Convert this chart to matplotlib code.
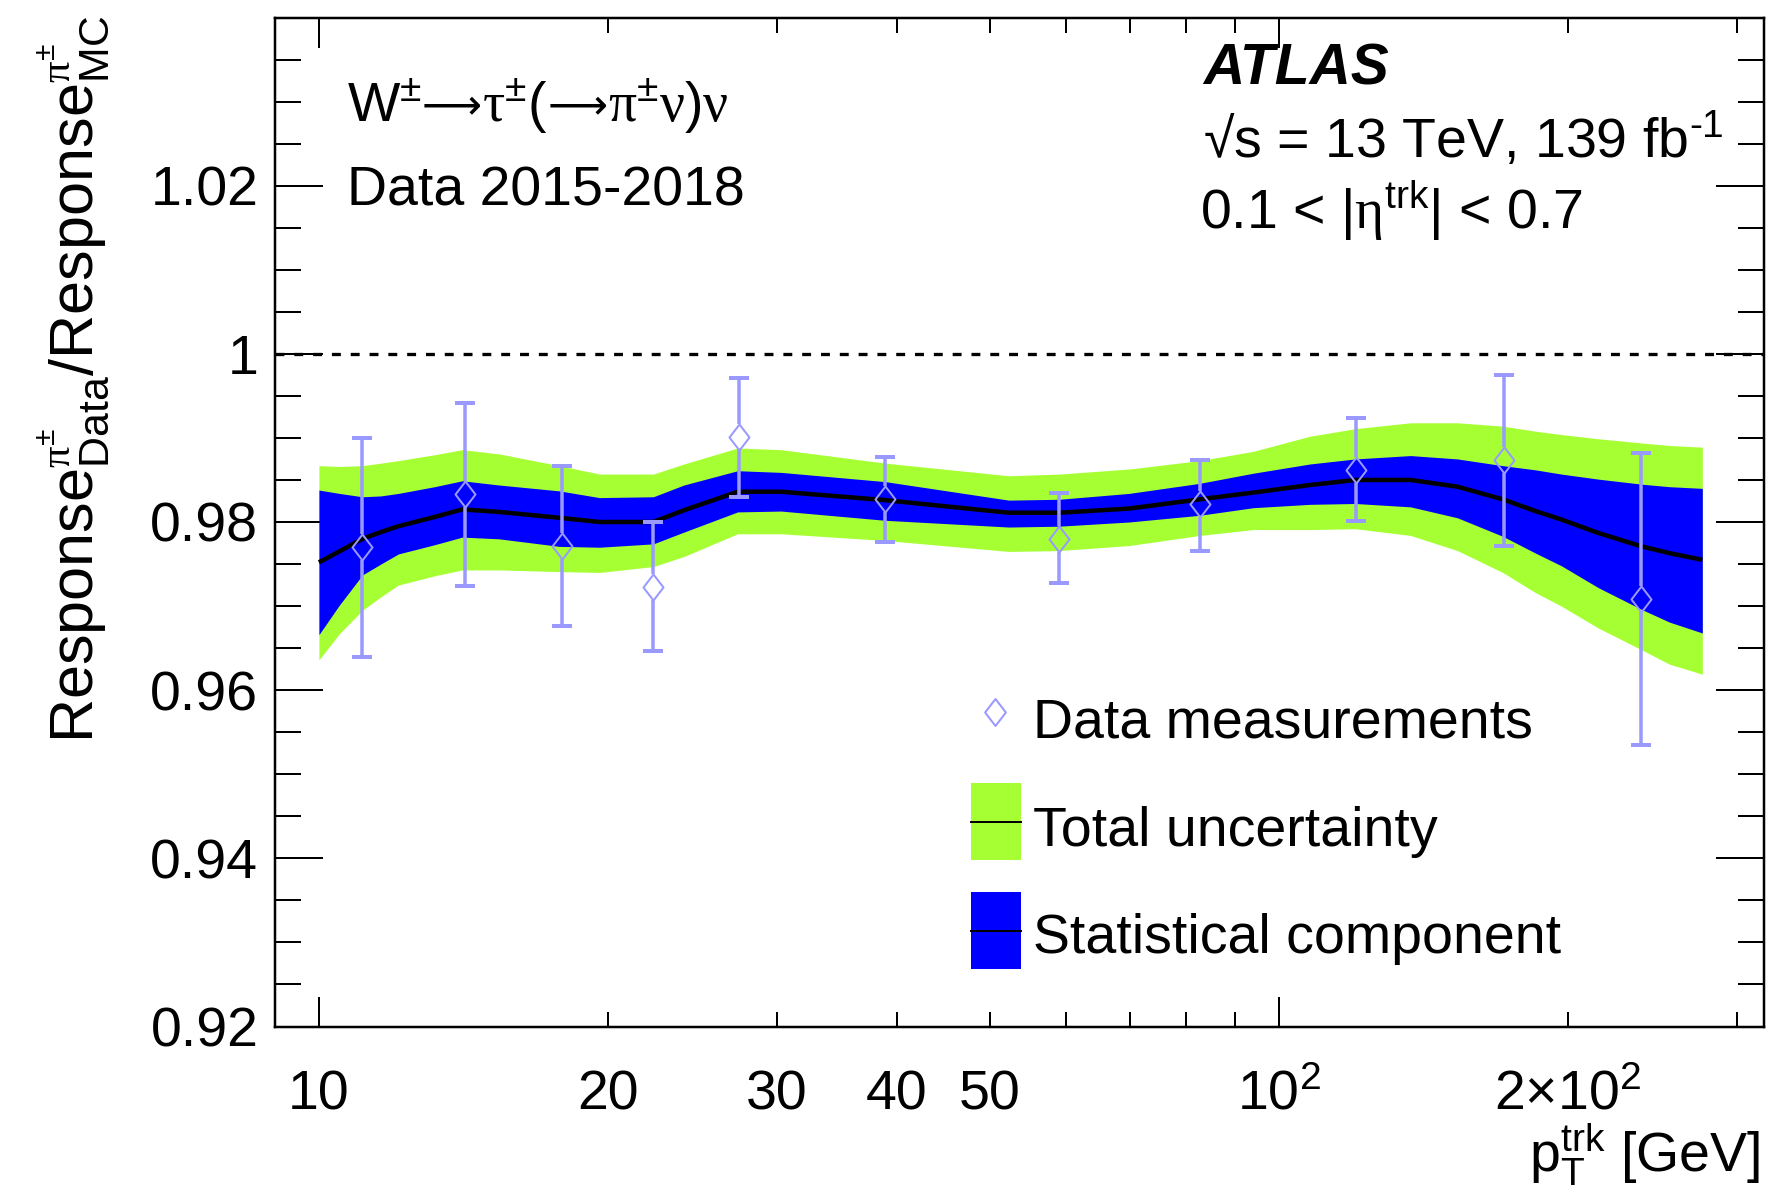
import numpy as np
import matplotlib
matplotlib.use("Agg")
import matplotlib.pyplot as plt
from matplotlib.path import Path
from matplotlib.patches import Rectangle
from matplotlib.lines import Line2D

# ---------------- data ----------------
# smooth fit curve
curve_pt = [10.0, 10.5, 11.1, 11.6, 12.1, 13.2, 14.1, 15.4, 17.8, 19.6, 22.3, 24.0, 27.3,
            30.3, 38.9, 52.3, 59.0, 69.8, 82.7, 94.0, 107.7, 120.1, 137.1, 153.4, 171.0,
            185.0, 196.8, 215.0, 238.6, 255.0, 276.0]
curve_central = [0.9752, 0.9765, 0.9780, 0.9788, 0.9795, 0.9806, 0.9815, 0.9812, 0.9805,
                 0.9800, 0.9800, 0.9814, 0.9836, 0.9836, 0.9826, 0.9811, 0.9811, 0.9816,
                 0.9827, 0.9835, 0.9844, 0.9850, 0.9850, 0.9842, 0.9827, 0.9813, 0.9803,
                 0.9787, 0.9771, 0.9763, 0.9755]
stat_hi = [0.9838, 0.9834, 0.9830, 0.9831, 0.9834, 0.9842, 0.9849, 0.9844, 0.9837, 0.9829,
           0.9830, 0.9844, 0.9861, 0.9859, 0.9848, 0.9826, 0.9827, 0.9834, 0.9846, 0.9858,
           0.9869, 0.9875, 0.9879, 0.9875, 0.9867, 0.9862, 0.9857, 0.9851, 0.9845, 0.9842,
           0.9840]
stat_lo = [0.9666, 0.9701, 0.9737, 0.9750, 0.9762, 0.9773, 0.9782, 0.9780, 0.9771, 0.9770,
           0.9774, 0.9788, 0.9812, 0.9813, 0.9802, 0.9794, 0.9795, 0.9800, 0.9808, 0.9817,
           0.9821, 0.9822, 0.9818, 0.9805, 0.9783, 0.9763, 0.9748, 0.9722, 0.9696, 0.9681,
           0.9668]
tot_hi = [0.9867, 0.9866, 0.9867, 0.9870, 0.9873, 0.9880, 0.9886, 0.9881, 0.9867, 0.9857,
          0.9857, 0.9869, 0.9888, 0.9886, 0.9870, 0.9855, 0.9857, 0.9863, 0.9873, 0.9884,
          0.9902, 0.9911, 0.9918, 0.9918, 0.9914, 0.9908, 0.9904, 0.9899, 0.9894, 0.9891,
          0.9889]
tot_lo = [0.9636, 0.9667, 0.9695, 0.9711, 0.9725, 0.9736, 0.9743, 0.9743, 0.9741, 0.9740,
          0.9747, 0.9759, 0.9786, 0.9786, 0.9778, 0.9765, 0.9766, 0.9772, 0.9784, 0.9791,
          0.9791, 0.9792, 0.9784, 0.9766, 0.9740, 0.9716, 0.9700, 0.9674, 0.9648, 0.9631,
          0.9619]

# data measurements
meas_pt = [11.1, 14.2, 17.9, 22.3, 27.4, 38.9, 59.0, 82.7, 120.3, 171.5, 238.5]
meas_val = [0.9770, 0.9833, 0.9772, 0.9723, 0.9901, 0.9827, 0.9780, 0.9821, 0.9862, 0.9874, 0.9709]
meas_top = [0.9900, 0.9941, 0.9867, 0.9800, 0.9971, 0.9877, 0.9834, 0.9874, 0.9924, 0.9975, 0.9882]
meas_bot = [0.9640, 0.9724, 0.9676, 0.9646, 0.9830, 0.9776, 0.9727, 0.9766, 0.9801, 0.9771, 0.9535]

x_major = [10, 100]
x_major_labels = ["10", "$10^{2}$"]
x_minor = [20, 30, 40, 50, 60, 70, 80, 90, 200, 300]
x_minor_labels = ["20", "30", "40", "50", "", "", "", "", r"2$\times$10$^{2}$", ""]
y_major = [0.92, 0.94, 0.96, 0.98, 1.00, 1.02]
y_major_labels = ["0.92", "0.94", "0.96", "0.98", "1", "1.02"]

# ---------------- style ----------------
plt.rcParams["font.family"] = ["Liberation Sans", "DejaVu Sans"]
plt.rcParams["mathtext.fontset"] = "custom"
plt.rcParams["mathtext.rm"] = "Liberation Sans"
plt.rcParams["mathtext.it"] = "Liberation Sans:italic"
plt.rcParams["mathtext.bf"] = "Liberation Sans:bold"
plt.rcParams["mathtext.sf"] = "Liberation Serif"

W, H = 1767, 1200
PX = 72.0 / 100.0  # points per pixel
FS = 40

GREEN = "#A6FF32"
BLUE = "#0000FF"
MK = "#9999FF"

fig = plt.figure(figsize=(W / 100, H / 100), dpi=100)
ax_l, ax_r, ax_t, ax_b = 275, 1764, 17.5, 1026.5
ax = fig.add_axes([ax_l / W, 1 - ax_b / H, (ax_r - ax_l) / W, (ax_b - ax_t) / H])
ax.set_xscale("log")
ax.set_xlim(9, 320)
ax.set_ylim(0.92, 1.04)

ax.fill_between(curve_pt, tot_lo, tot_hi, color=GREEN, lw=0, zorder=1)
ax.fill_between(curve_pt, stat_lo, stat_hi, color=BLUE, lw=0, zorder=2)
ax.plot(curve_pt, curve_central, color="k", lw=4.5 * PX, zorder=3, solid_capstyle="butt",
        solid_joinstyle="round")
ax.axhline(1.0, color="k", lw=3.3 * PX, dashes=(2.7, 3.0), zorder=3)

# measurements: error bars stop at marker edges
gap = 13 * (0.12 / (ax_b - ax_t))
mv = np.array(meas_val)
ax.vlines(meas_pt, mv + gap, meas_top, color=MK, lw=3.5 * PX, zorder=4)
ax.vlines(meas_pt, meas_bot, mv - gap, color=MK, lw=3.5 * PX, zorder=4)
ax.plot(meas_pt, meas_top, ls="none", marker="_", ms=20 * PX, mew=4 * PX, color=MK, zorder=4)
ax.plot(meas_pt, meas_bot, ls="none", marker="_", ms=20 * PX, mew=4 * PX, color=MK, zorder=4)
diamond = Path([(0, 1), (0.77, 0), (0, -1), (-0.77, 0), (0, 1)],
               [Path.MOVETO, Path.LINETO, Path.LINETO, Path.LINETO, Path.CLOSEPOLY])
ax.plot(meas_pt, meas_val, ls="none", marker=diamond, ms=26 * PX, mfc="none",
        mec=MK, mew=2 * PX, zorder=5)

# ticks
ax.set_xticks(x_major)
ax.set_xticklabels(x_major_labels)
ax.set_xticks(x_minor, minor=True)
ax.set_xticklabels(x_minor_labels, minor=True)
ax.set_yticks(y_major)
ax.set_yticklabels(y_major_labels)
ax.set_yticks(np.arange(0.925, 1.04, 0.005), minor=True)
ax.yaxis.set_minor_formatter(matplotlib.ticker.NullFormatter())

ax.tick_params(axis="x", which="major", direction="in", top=True, length=30 * PX,
               width=2 * PX, labelsize=FS, pad=60)
ax.tick_params(axis="x", which="minor", direction="in", top=True, length=15 * PX,
               width=2 * PX, labelsize=FS, pad=60)
ax.tick_params(axis="y", which="major", direction="in", right=True, length=48 * PX,
               width=2 * PX, labelsize=FS, pad=12)
ax.tick_params(axis="y", which="minor", direction="in", right=True, length=26 * PX,
               width=2 * PX)
for lab in ax.get_xticklabels(which="both"):
    lab.set_verticalalignment("baseline")
for s in ax.spines.values():
    s.set_linewidth(2.5 * PX)


def fx(x):
    return x / W


def fy(y):
    return 1 - y / H


# axis titles
fig.text(fx(73), fy(16),
         r"Response$^{\mathsf{\pi}^{\pm}}_{\mathrm{Data}}$/Response$^{\mathsf{\pi}^{\pm}}_{\mathrm{MC}}$",
         rotation=90, ha="center", va="top", fontsize=44)
fig.text(fx(1760), fy(1172), r"p$_{\mathrm{T}}^{\mathrm{trk}}$ [GeV]", ha="right",
         va="baseline", fontsize=FS)

# annotations
renderer = fig.canvas.get_renderer()

# long arrow sized to about 1 em of the main font
probe = fig.text(0, 0, "⟶", fontsize=FS, family=["DejaVu Sans"])
arrow_w = probe.get_window_extent(renderer).width
probe.remove()
ARROW_FS = FS * 60.0 / arrow_w if arrow_w > 0 else FS
ARROW_RAISE = 0.3 * (FS - ARROW_FS) * 100 / 72.0


def place_pieces(x0_px, base_px, pieces):
    x = x0_px
    for txt, fam, fs, raise_px in pieces:
        t = fig.text(fx(x), fy(base_px - raise_px), txt, va="baseline", fontsize=fs,
                     family=fam)
        bb = t.get_window_extent(renderer)
        x += bb.width


sans = ["Liberation Sans", "DejaVu Sans"]
dv = ["DejaVu Sans"]
place_pieces(347, 122, [
    (r"W$^{\pm}$", sans, FS, 0),
    ("⟶", dv, ARROW_FS, ARROW_RAISE),
    (r"$\mathsf{\tau}^{\pm}$(", sans, FS, 0),
    ("⟶", dv, ARROW_FS, ARROW_RAISE),
    (r"$\mathsf{\pi}^{\pm}\mathsf{\nu}$)$\mathsf{\nu}$", sans, FS, 0),
])
fig.text(fx(347), fy(206), "Data 2015-2018", va="baseline", fontsize=FS)
fig.text(fx(1203), fy(84.5), "ATLAS", va="baseline", fontsize=41, fontweight="bold",
         fontstyle="italic")
fig.text(fx(1203), fy(158), "√s = 13 TeV, 139 fb$^{‐1}$", va="baseline", fontsize=FS)
fig.text(fx(1200), fy(229), r"0.1 < |$\mathsf{\eta}^{\mathrm{trk}}$| < 0.7", va="baseline",
         fontsize=FS)

# legend (drawn by hand)
fig.add_artist(Line2D([fx(995)], [fy(712)], ls="none", marker=diamond, ms=27 * PX, mfc="none",
                      mec=MK, mew=2 * PX, transform=fig.transFigure))
fig.text(fx(1033), fy(738), "Data measurements", va="baseline", fontsize=FS)
for (ytop, col, txt, base) in [(783, GREEN, "Total uncertainty", 846),
                               (892, BLUE, "Statistical component", 953)]:
    fig.add_artist(Rectangle((fx(971), fy(ytop + 77)), 50 / W, 77 / H, facecolor=col,
                             edgecolor="none", transform=fig.transFigure))
    fig.add_artist(Line2D([fx(971), fx(1021)], [fy(ytop + 38.5)] * 2, color="k", lw=2 * PX,
                          transform=fig.transFigure))
    fig.text(fx(1033), fy(base), txt, va="baseline", fontsize=FS)

fig.savefig("out.png", dpi=100)
